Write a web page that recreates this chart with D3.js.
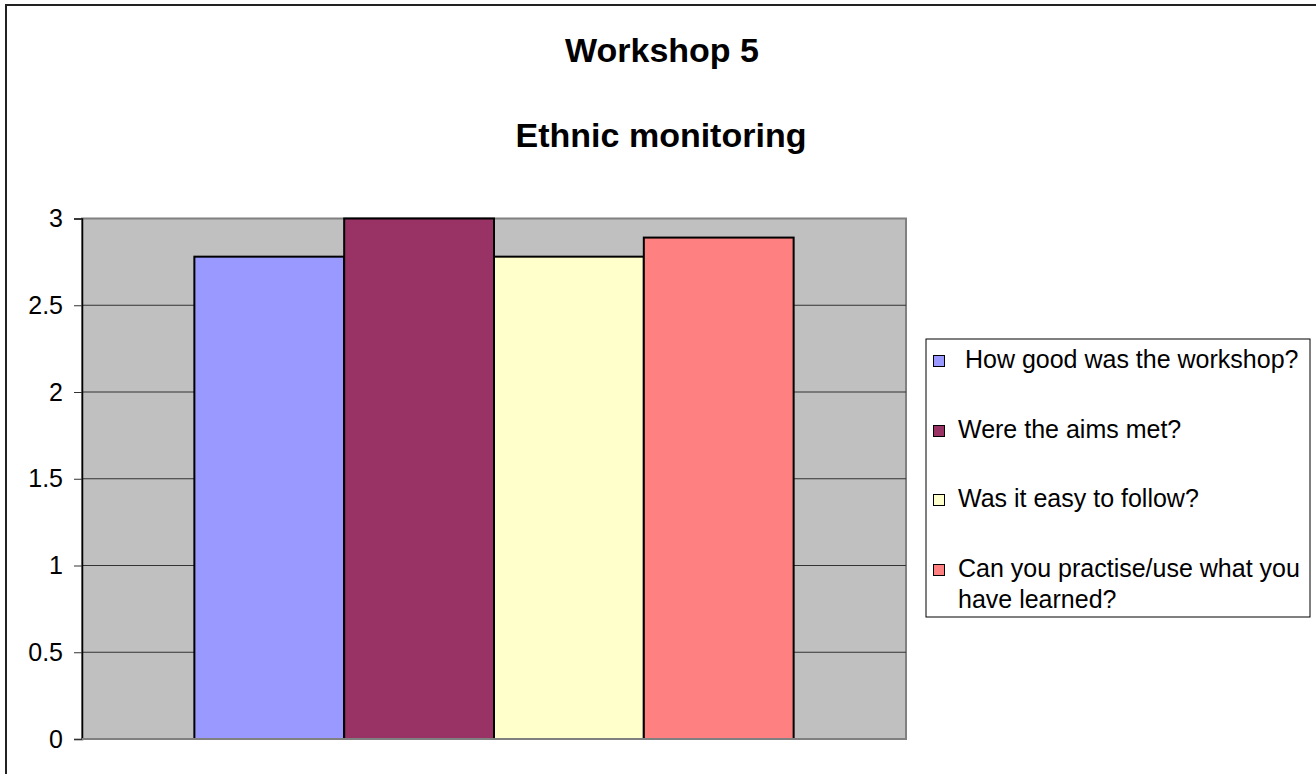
<!DOCTYPE html>
<html lang="en">
<head>
    <meta charset="UTF-8">
    <title> Workshop 5 </title>
    <script src="https://cdn.jsdelivr.net/npm/d3@7/dist/d3.min.js"></script>
    <style>
        body { margin: 0; background: #fff; }
        text { font-family: "Liberation Sans", Arial, sans-serif; fill: #000; }
    </style>
</head>
<body>
<svg width="1316" height="774"></svg>
<script>
    // data
    let categories = ['']
    let seriesNames = [' How good was the workshop?',
        'Were the aims met?',
        'Was it easy to follow?',
        'Can you practise/use what you have learned?']
    let seriesValues = [2.78, 3, 2.78, 2.89]
    let yTicks = [0, 0.5, 1, 1.5, 2, 2.5, 3]
    let colors = ['#9999FF', '#993366', '#FFFFCC', '#FF8080']

    let svg = d3.select('svg');

    // outer chart frame
    svg.append('rect')
        .attr('x', 6).attr('y', 5)
        .attr('width', 1330).attr('height', 800)
        .attr('fill', 'none')
        .attr('stroke', '#222')
        .attr('stroke-width', 2);

    svg.append('text')
        .attr('x', 662).attr('y', 62)
        .attr('text-anchor', 'middle')
        .style('font-size', '34px').style('font-weight', 'bold')
        .text('Workshop 5');
    svg.append('text')
        .attr('x', 661).attr('y', 147)
        .attr('text-anchor', 'middle')
        .style('font-size', '34px').style('font-weight', 'bold')
        .text('Ethnic monitoring');

    let pLeft = 82, pRight = 906, pTop = 218.5, pBottom = 739;

    let scaleY = d3.scaleLinear().domain([0, 3]).range([pBottom, pTop]);
    let scaleX0 = d3.scaleBand().domain(categories).range([pLeft, pRight])
        .paddingInner(0).paddingOuter(0.1875);
    let scaleX1 = d3.scaleBand().domain(seriesNames).range([0, scaleX0.bandwidth()]);

    // plot area
    svg.append('rect')
        .attr('x', pLeft).attr('y', pTop)
        .attr('width', pRight - pLeft).attr('height', pBottom - pTop)
        .attr('fill', '#C0C0C0')
        .attr('stroke', '#808080')
        .attr('stroke-width', 2);

    // gridlines
    svg.append('g')
        .selectAll('line')
        .data(yTicks.filter(d => d > 0 && d < 3))
        .enter()
        .append('line')
        .attr('x1', pLeft).attr('x2', pRight)
        .attr('y1', d => scaleY(d)).attr('y2', d => scaleY(d))
        .attr('stroke', '#333')
        .attr('stroke-width', 1);

    // bars
    let groups = svg.selectAll('g.cat')
        .data(categories)
        .enter()
        .append('g')
        .attr('class', 'cat')
        .attr('transform', d => 'translate(' + scaleX0(d) + ',0)');

    groups.selectAll('rect')
        .data(seriesNames.map((s, i) => ({name: s, value: seriesValues[i], color: colors[i]})))
        .enter()
        .append('rect')
        .attr('x', d => scaleX1(d.name))
        .attr('y', d => scaleY(d.value))
        .attr('width', scaleX1.bandwidth())
        .attr('height', d => pBottom - scaleY(d.value))
        .attr('fill', d => d.color)
        .attr('stroke', '#000')
        .attr('stroke-width', 2);

    // y axis
    let yAxis = svg.append('g')
        .attr('transform', 'translate(' + pLeft + ',0)')
        .call(d3.axisLeft(scaleY).tickValues(yTicks).tickSize(8).tickPadding(11)
            .tickFormat(d3.format('')));
    yAxis.select('.domain').attr('stroke', '#000').attr('stroke-width', 1.5);
    yAxis.selectAll('.tick line').attr('stroke', '#333');
    yAxis.selectAll('text').style('font-size', '25px').style('font-family', '"Liberation Sans", Arial, sans-serif');

    // x axis line
    svg.append('line')
        .attr('x1', pLeft).attr('x2', pRight)
        .attr('y1', pBottom).attr('y2', pBottom)
        .attr('stroke', '#808080').attr('stroke-width', 2);

    // legend
    let lg = svg.append('g');
    lg.append('rect')
        .attr('x', 926).attr('y', 339)
        .attr('width', 384).attr('height', 278)
        .attr('fill', '#fff')
        .attr('stroke', '#000')
        .attr('stroke-width', 1);

    let rowY = [368, 438, 507, 577];
    let items = lg.selectAll('g.item')
        .data(seriesNames)
        .enter()
        .append('g')
        .attr('class', 'item');

    items.append('rect')
        .attr('x', 933.5)
        .attr('y', (d, i) => rowY[i] - 12.5)
        .attr('width', 11).attr('height', 11)
        .attr('fill', (d, i) => colors[i])
        .attr('stroke', '#000')
        .attr('stroke-width', 1);

    items.append('text')
        .attr('x', 958)
        .attr('y', (d, i) => rowY[i])
        .style('font-size', '25px')
        .style('white-space', 'pre')
        .each(function (d) {
            // wrap long labels inside the legend box
            let el = d3.select(this);
            let words = d.split(' ');
            let lines = [];
            let line = words[0];
            let probe = el.append('tspan');
            for (let k = 1; k < words.length; k++) {
                probe.text(line + ' ' + words[k]);
                if (probe.node().getComputedTextLength() > 348) {
                    lines.push(line);
                    line = words[k];
                } else {
                    line = line + ' ' + words[k];
                }
            }
            lines.push(line);
            probe.remove();
            lines.forEach(function (l, j) {
                el.append('tspan')
                    .attr('x', 958)
                    .attr('dy', j === 0 ? 0 : 31)
                    .text(l);
            });
        });
</script>
</body>
</html>
